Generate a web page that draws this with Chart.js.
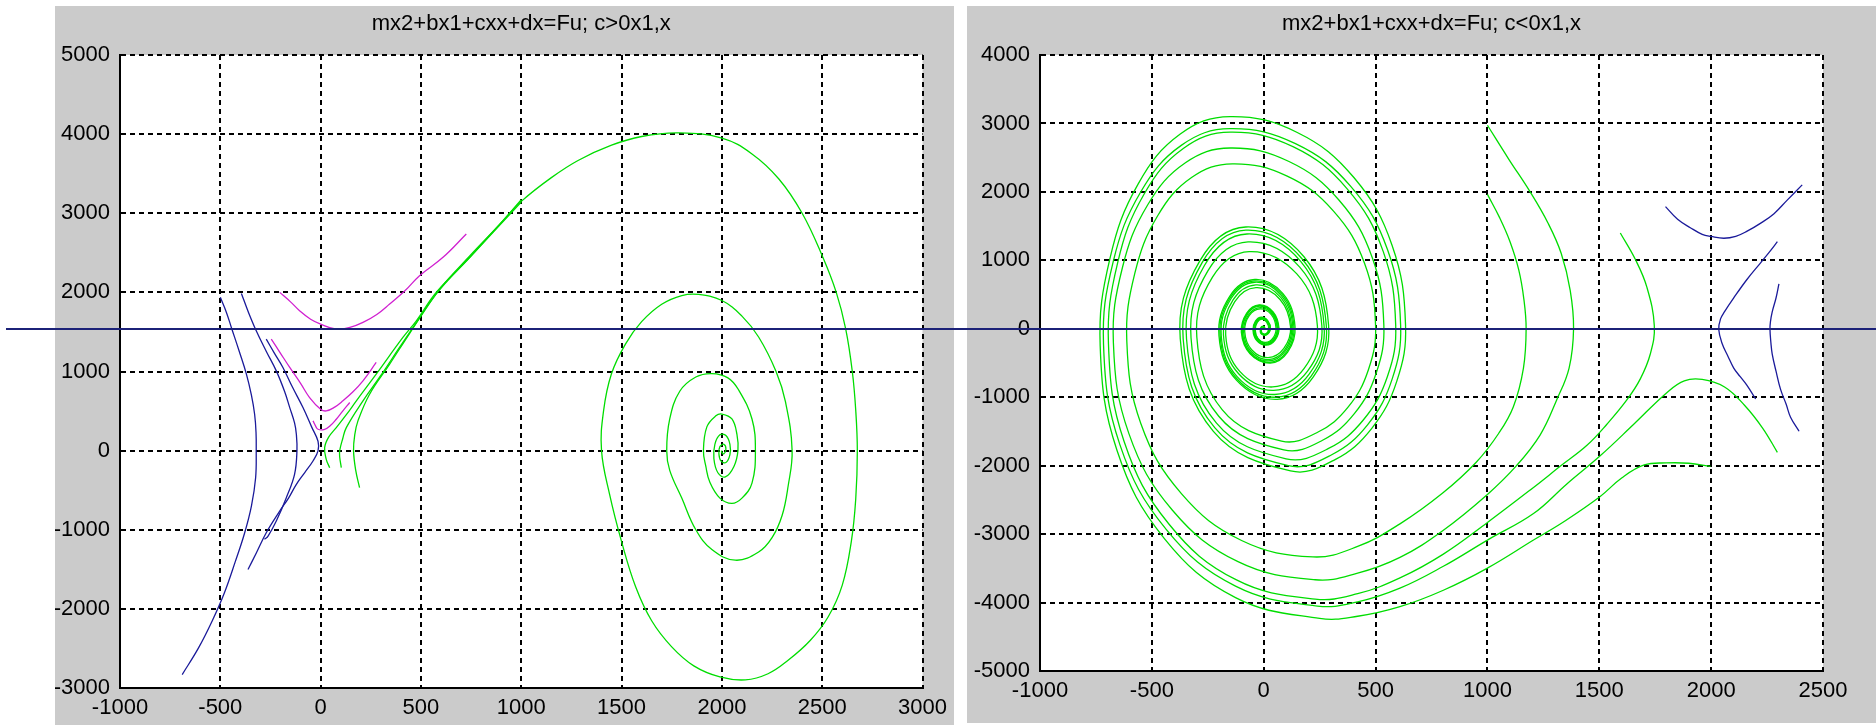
<!DOCTYPE html>
<html>
<head>
<meta charset="utf-8">
<script src="https://cdn.jsdelivr.net/npm/chart.js@4.4.1/dist/chart.umd.min.js"></script>
<style>
  body { margin: 0; width: 1876px; height: 725px; background: #fff; position: relative; overflow: hidden; }
  .fig { position: absolute; background: #cbcbcb; }
  #figLeft { left: 55px; top: 6px; width: 899px; height: 719px; }
  #figRight { left: 967px; top: 6px; width: 909px; height: 717px; }
  #zeroLine { position: absolute; left: 6px; width: 1870px; height: 2px; background: #1c2278; z-index: 5; }
</style>
</head>
<body>
<div class="fig" id="figLeft"><canvas id="leftChart" width="899" height="719"></canvas></div>
<div class="fig" id="figRight"><canvas id="rightChart" width="909" height="717"></canvas></div>
<div id="zeroLine"></div>
<script>
// ---- titles & ticks ----
const leftTitle = 'mx2+bx1+cxx+dx=Fu; c>0x1,x';
const rightTitle = 'mx2+bx1+cxx+dx=Fu; c<0x1,x';
const leftXTicks = [-1000, -500, 0, 500, 1000, 1500, 2000, 2500, 3000];
const leftYTicks = [-3000, -2000, -1000, 0, 1000, 2000, 3000, 4000, 5000];
const rightXTicks = [-1000, -500, 0, 500, 1000, 1500, 2000, 2500];
const rightYTicks = [-5000, -4000, -3000, -2000, -1000, 0, 1000, 2000, 3000, 4000];

// ---- left plot (c>0) ----
const leftBlue1 = [[-500,1937],[-470,1750],[-445,1557],[-405,1250],[-370,966],[-345,700],[-329,460],[-322,230],[-321,0],[-324,-342],[-345,-700],[-380,-1050],[-425,-1400],[-480,-1800],[-540,-2150],[-610,-2500],[-690,-2830]];
const leftBlue2 = [[-395,1987],[-360,1750],[-321,1515],[-270,1250],[-221,1008],[-180,750],[-154,544],[-130,350],[-121,207],[-118,0],[-130,-300],[-171,-595],[-221,-890],[-262,-1080],[-280,-1120]];
const leftBlue3 = [[-271,1409],[-230,1230],[-188,1051],[-140,800],[-88,544],[-45,300],[-13,118],[-13,-4],[-38,-131],[-80,-280],[-121,-426],[-160,-600],[-204,-764],[-271,-1038],[-320,-1290],[-362,-1502]];
const leftMagenta1 = [[-204,2000],[-150,1880],[-105,1768],[-50,1660],[0,1599],[78,1536],[150,1560],[211,1620],[280,1720],[344,1852],[420,2020],[493,2211],[610,2443],[726,2738]];
const leftMagenta2 = [[-246,1409],[-200,1230],[-154,1051],[-100,850],[-55,671],[0,523],[28,502],[70,550],[111,629],[160,740],[211,882],[277,1114]];
const leftMagenta3 = [[-38,376],[-25,310],[-13,270],[20,270],[50,320],[78,397],[110,500],[145,608]];
const leftGreen1 = [[45,-215],[28,-110],[20,38],[40,170],[78,291],[130,460],[178,629],[277,966],[410,1430],[477,1641],[576,2000],[743,2443],[909,2907],[1000,3150],[1150,3450],[1283,3667],[1450,3860],[1600,3970],[1783,4015],[2000,3950],[2150,3750],[2283,3436],[2400,3000],[2500,2462],[2570,2000],[2617,1538],[2650,1000],[2667,513],[2675,0],[2667,-615],[2645,-1150],[2600,-1700],[2530,-2100],[2440,-2400],[2330,-2650],[2230,-2820],[2117,-2897],[1990,-2860],[1860,-2720],[1750,-2480],[1650,-2150],[1570,-1720],[1500,-1150],[1440,-550],[1400,0],[1410,500],[1450,974],[1520,1350],[1600,1630],[1700,1850],[1800,1960],[1883,1974],[2000,1897],[2100,1700],[2183,1436],[2270,1000],[2317,615],[2350,0],[2330,-450],[2300,-820],[2250,-1100],[2183,-1282],[2067,-1385],[1950,-1250],[1870,-1000],[1800,-600],[1740,-250],[1725,0],[1740,400],[1790,750],[1870,930],[1950,974],[2030,920],[2083,769],[2150,400],[2167,0],[2150,-410],[2100,-600],[2050,-667],[1990,-600],[1940,-400],[1920,-200],[1908,0],[1925,300],[1970,440],[2000,462],[2050,400],[2075,205],[2080,0],[2060,-200],[2017,-333],[1980,-280],[1960,-100],[1965,80],[1990,200],[2020,190],[2040,80],[2040,-50],[2020,-150],[1995,-130],[1985,-40],[1990,50],[2010,80],[2020,20],[2010,-40],[1998,-20],[2000,0]];
const leftGreen2 = [[103,-215],[95,-80],[95,0],[110,150],[128,291],[211,629],[300,950],[400,1330],[500,1700],[600,2060],[743,2460],[900,2880],[1000,3170]];
const leftGreen3 = [[194,-468],[175,-250],[164,0],[170,200],[186,376],[244,713],[344,1093],[443,1480],[576,1980],[743,2440],[900,2870],[1000,3140]];

// ---- right plot (c<0) ----
const rightBlue1 = [[1796,1785],[1850,1600],[1907,1477],[1960,1380],[2000,1349],[2057,1323],[2110,1350],[2161,1426],[2220,1540],[2281,1682],[2340,1880],[2407,2103]];
const rightBlue2 = [[2296,1272],[2260,1120],[2221,964],[2160,720],[2101,451],[2060,250],[2042,144],[2034,-10],[2049,-215],[2075,-400],[2101,-574],[2130,-700],[2161,-831],[2199,-1026]];
const rightBlue3 = [[2303,656],[2290,450],[2273,246],[2265,100],[2263,-10],[2267,-200],[2273,-369],[2290,-620],[2310,-882],[2335,-1100],[2355,-1292],[2393,-1497]];
const rightGreenA = [[1000,2974],[1095,2480],[1191,2000],[1270,1550],[1330,1100],[1370,560],[1385,0],[1365,-574],[1310,-1036],[1236,-1549],[1130,-2000],[1000,-2420],[800,-2950],[609,-3340],[420,-3570],[230,-3667],[-115,-3403],[-408,-2651],[-603,-1528],[-672,-200],[-632,888],[-519,1809],[-350,2425],[-150,2641],[113,2444],[336,1882],[485,1042],[537,50],[503,-647],[406,-1237],[261,-1632],[90,-1770],[-201,-1278],[-325,-130],[-249,850],[-70,1270],[161,901],[260,40],[196,-618],[45,-900],[-112,-657],[-180,-90],[-137,421],[-35,640],[77,456],[125,25],[94,-307],[20,-450],[-57,-329],[-90,-45],[-68,203],[-15,310],[37,220],[60,10],[45,-144],[10,-210],[-25,-153],[-40,-20],[-30,99],[-8,150],[16,105],[25,0],[10,-80],[-10,-60],[-10,20],[0,30],[5,0]];
const rightGreenB = [[1000,1964],[1055,1620],[1101,1272],[1140,860],[1163,430],[1173,0],[1161,-574],[1116,-1138],[1050,-1530],[950,-1950],[800,-2400],[609,-2850],[420,-3180],[220,-3333],[-99,-3093],[-368,-2409],[-549,-1388],[-612,-180],[-576,812],[-474,1651],[-321,2213],[-140,2410],[105,2231],[312,1719],[451,954],[500,50],[468,-598],[377,-1146],[241,-1512],[80,-1641],[-185,-1185],[-299,-120],[-229,754],[-65,1128],[148,802],[240,40],[180,-583],[40,-850],[-107,-622],[-170,-90],[-130,393],[-35,600],[73,428],[120,25],[90,-286],[20,-420],[-54,-306],[-85,-40],[-65,191],[-15,290],[34,206],[55,10],[41,-137],[8,-200],[-25,-145],[-38,-18],[-29,93],[-8,140],[13,98],[22,0],[9,-75],[-9,-55],[-9,18],[0,28],[4,0]];
const rightGreenC = [[1594,1400],[1661,1015],[1713,605],[1746,41],[1728,-369],[1684,-728],[1624,-1036],[1534,-1395],[1445,-1703],[1325,-2010],[1206,-2318],[1000,-2830],[803,-3292],[609,-3640],[420,-3870],[230,-3949],[-124,-3666],[-423,-2856],[-624,-1648],[-694,-220],[-653,964],[-535,1966],[-358,2637],[-150,2872],[133,2658],[373,2045],[534,1131],[590,50],[553,-697],[446,-1329],[288,-1752],[100,-1900],[-212,-1375],[-345,-150],[-265,925],[-75,1385],[166,982],[270,40],[204,-660],[50,-960],[-118,-702],[-190,-100],[-145,446],[-40,680],[79,485],[130,30],[98,-320],[22,-470],[-60,-344],[-95,-50],[-72,216],[-18,330],[38,234],[62,10],[46,-155],[10,-225],[-28,-164],[-44,-20],[-34,105],[-9,158],[16,111],[27,0],[10,-82],[-10,-62],[-10,18],[0,30],[5,0]];
const rightGreenD = [[2296,-1805],[2230,-1450],[2150,-1120],[2060,-850],[1960,-740],[1880,-760],[1803,-930],[1654,-1395],[1504,-1856],[1355,-2267],[1206,-2700],[1000,-3087],[803,-3470],[609,-3790],[420,-3990],[240,-4051],[-126,-3761],[-436,-2931],[-643,-1693],[-716,-230],[-673,978],[-550,1999],[-367,2683],[-150,2923],[142,2705],[389,2081],[554,1150],[612,50],[574,-735],[465,-1399],[302,-1844],[110,-2000],[-219,-1445],[-360,-150],[-276,963],[-80,1440],[172,1020],[280,40],[213,-688],[55,-1000],[-120,-730],[-195,-100],[-149,460],[-40,700],[83,499],[135,30],[103,-334],[25,-490],[-60,-358],[-97,-50],[-74,223],[-20,340],[40,241],[65,10],[49,-158],[10,-230],[-29,-167],[-45,-20],[-35,106],[-10,160],[17,112],[28,0],[11,-85],[-11,-65],[-11,20],[0,32],[5,0]];
const rightGreenE = [[1997,-2010],[1900,-1965],[1800,-1960],[1701,-1990],[1600,-2180],[1504,-2450],[1350,-2800],[1206,-3087],[1000,-3497],[803,-3820],[609,-4060],[420,-4200],[250,-4231],[-126,-3928],[-444,-3065],[-656,-1775],[-731,-250],[-687,1033],[-561,2118],[-373,2845],[-150,3100],[150,2868],[404,2206],[574,1218],[634,50],[595,-765],[483,-1454],[317,-1915],[120,-2077],[-225,-1499],[-373,-150],[-285,996],[-80,1487],[179,1056],[290,50],[221,-706],[60,-1030],[-122,-751],[-200,-100],[-152,474],[-40,720],[86,513],[140,30],[107,-341],[30,-500],[-61,-365],[-100,-50],[-76,230],[-20,350],[42,248],[68,10],[51,-165],[10,-240],[-31,-174],[-48,-20],[-37,113],[-10,170],[18,119],[30,0],[12,-90],[-12,-70],[-12,20],[0,35],[6,0]];

const GREEN = '#00dd00', BLUE = '#1a1a9a', MAGENTA = '#d020d0';

Chart.defaults.font.family = "'Liberation Sans', Arial, sans-serif";
Chart.defaults.font.size = 22;
Chart.defaults.color = '#000';

function series(points, color) {
  return {
    data: points.map(p => ({ x: p[0], y: p[1] })),
    borderColor: color,
    borderWidth: 1.3,
    showLine: true,
    pointRadius: 0,
    tension: 0.4,
    fill: false
  };
}

const plotBg = {
  id: 'plotBg',
  beforeDraw(chart) {
    const a = chart.chartArea;
    chart.ctx.save();
    chart.ctx.fillStyle = '#ffffff';
    chart.ctx.fillRect(a.left, a.top, a.right - a.left, a.bottom - a.top);
    chart.ctx.restore();
  }
};

function axis(ticks, axisSize, isX) {
  return {
    type: 'linear',
    min: ticks[0],
    max: ticks[ticks.length - 1],
    afterBuildTicks: s => { s.ticks = ticks.map(v => ({ value: v })); },
    afterFit: s => { if (isX) s.height = axisSize; else s.width = axisSize; },
    ticks: { autoSkip: false, maxRotation: 0, padding: isX ? 7 : 10, callback: v => String(v) },
    grid: { color: '#000', lineWidth: 2, drawTicks: false },
    border: { display: true, color: '#000', width: 2, dash: [5, 4] }
  };
}

function options(title, xTicks, yTicks, yWidth, xHeight, padRight) {
  return {
    responsive: false,
    animation: false,
    layout: { padding: { left: 0, top: 0, right: padRight, bottom: 0 } },
    plugins: {
      legend: { display: false },
      tooltip: { enabled: false },
      title: {
        display: true, text: title, fullSize: false, color: '#000',
        font: { size: 22, weight: 'normal' }, padding: { top: 5, bottom: 17.6 }
      }
    },
    scales: { x: axis(xTicks, xHeight, true), y: axis(yTicks, yWidth, false) }
  };
}

new Chart(document.getElementById('leftChart'), {
  type: 'scatter',
  data: {
    datasets: [
      series(leftBlue1, BLUE), series(leftBlue2, BLUE), series(leftBlue3, BLUE),
      series(leftMagenta1, MAGENTA), series(leftMagenta2, MAGENTA), series(leftMagenta3, MAGENTA),
      series(leftGreen2, GREEN), series(leftGreen3, GREEN), series(leftGreen1, GREEN)
    ]
  },
  options: options(leftTitle, leftXTicks, leftYTicks, 65, 37, 29),
  plugins: [plotBg]
});

// the horizontal rule across the page sits on y = 0 of the right plot
const zeroLinePlugin = {
  id: 'zeroLine',
  afterRender(chart) {
    const y = chart.scales.y.getPixelForValue(0);
    const top = chart.canvas.parentNode.offsetTop + y;
    document.getElementById('zeroLine').style.top = Math.round(top - 1) + 'px';
  }
};

new Chart(document.getElementById('rightChart'), {
  type: 'scatter',
  data: {
    datasets: [
      series(rightGreenA, GREEN), series(rightGreenB, GREEN), series(rightGreenC, GREEN),
      series(rightGreenD, GREEN), series(rightGreenE, GREEN),
      series(rightBlue1, BLUE), series(rightBlue2, BLUE), series(rightBlue3, BLUE)
    ]
  },
  options: options(rightTitle, rightXTicks, rightYTicks, 73, 52, 53),
  plugins: [plotBg, zeroLinePlugin]
});
</script>
</body>
</html>
